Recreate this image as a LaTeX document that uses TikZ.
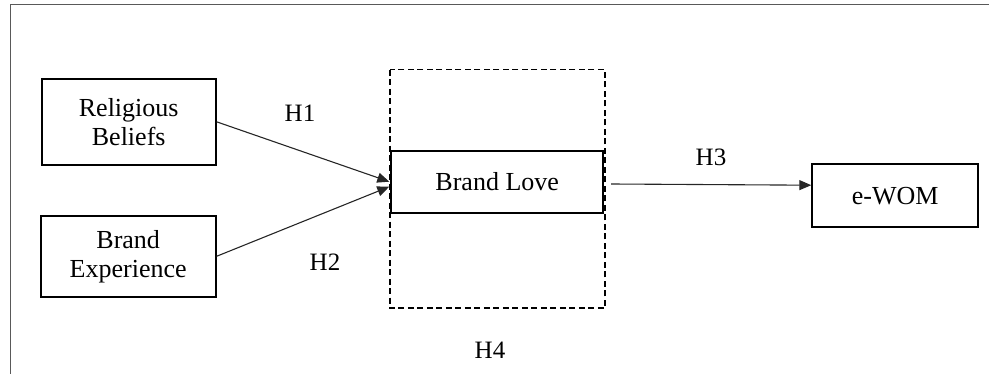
\documentclass[tikz,border=0pt]{standalone}
\usepackage{fontspec}
\setmainfont{Liberation Serif}
\usetikzlibrary{arrows.meta,calc}
\begin{document}
\begin{tikzpicture}[x=1pt,y=-1pt,
  box/.style={draw=black,line width=1.8pt,minimum width=#1,inner sep=0pt,align=center,
    font=\fontsize{26}{29}\selectfont},
  lbl/.style={font=\fontsize{25}{29}\selectfont,inner sep=0pt},
  conn/.style={draw=black!85,line width=1.1pt,-{Triangle[length=12pt,width=10pt]}},
  dashbox/.style={draw=black,line width=1.8pt,dash pattern=on 6pt off 3.5pt}]
\useasboundingbox (0,0) rectangle (989,374);
\draw[black!65,line width=1pt] (10.5,374) -- (10.5,4.5) -- (989,4.5);
% nodes
\node[box=174pt,minimum height=86pt] (rb) at (128.7,121.8) {Religious\\Beliefs};
\node[box=175pt,minimum height=81pt] (be) at (128.2,256.3) {Brand\\Experience};
\node[draw=none,minimum width=215pt,minimum height=238pt,inner sep=0pt] (grp) at (497.5,188.8) {};
\draw[dashbox] (grp.north west) rectangle (grp.south east);
\node[box=212pt,minimum height=62pt,fill=white] (bl) at (497.2,182) {Brand Love};
\node[box=166pt,minimum height=63pt] (ew) at (895.2,195.7) {e-WOM};
% connectors
\coordinate (t1) at ($(bl.west)+(-1,-0.3)$);
\coordinate (t2) at ($(bl.west)+(-1,4.7)$);
\draw[conn] (rb.east) -- (t1);
\draw[conn] (be.east) -- (t2);
\coordinate (s3) at (611,184);
\coordinate (t3) at ($(ew.west)+(0,-10.5)$);
\draw[conn] (s3) -- (t3);
% labels
\node[lbl] (h1) at (300,113) {H1};
\node[lbl] (h2) at (325,262) {H2};
\node[lbl] (h3) at (711,157) {H3};
\node[lbl] (h4) at (490,350) {H4};
\end{tikzpicture}
\end{document}
